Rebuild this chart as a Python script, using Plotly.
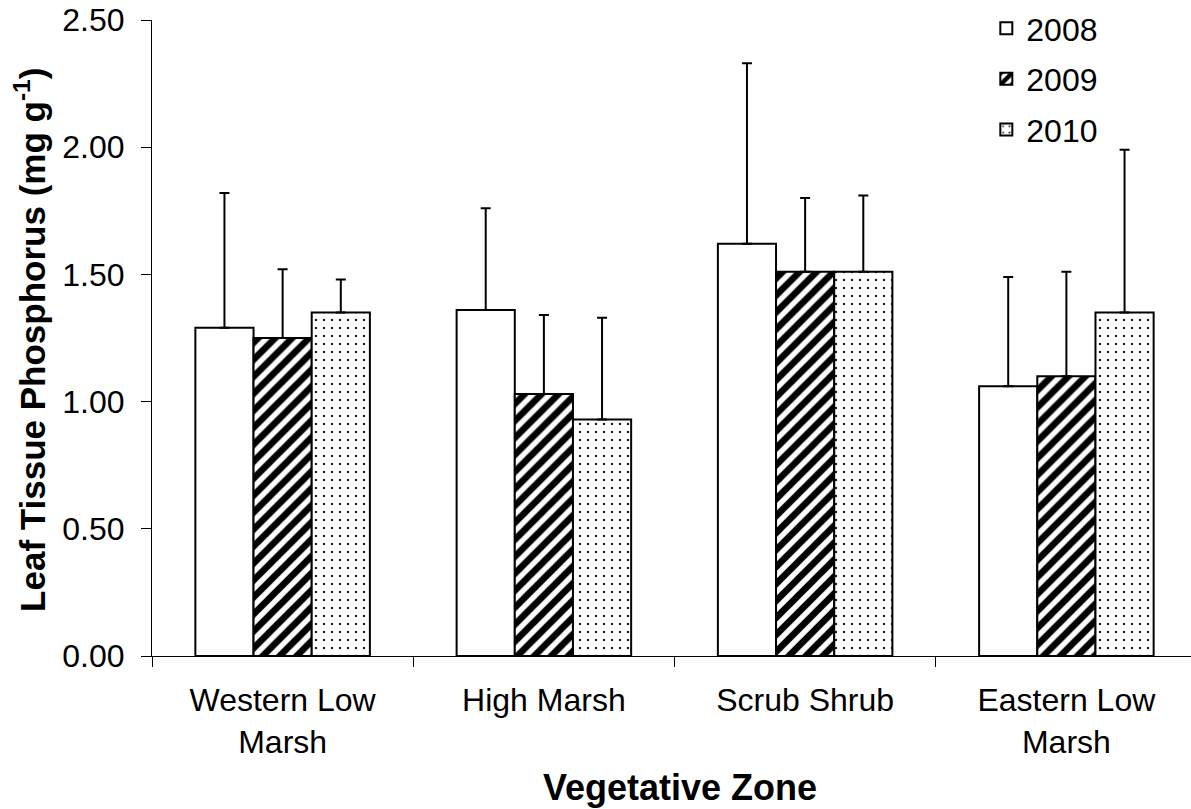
import plotly.graph_objects as go

# Vegetative zones (x categories) and their two-line tick labels
zones = ["Western Low Marsh", "High Marsh", "Scrub Shrub", "Eastern Low Marsh"]
zone_labels = ["Western Low<br>Marsh", "High Marsh", "Scrub Shrub", "Eastern Low<br>Marsh"]

# Mean leaf tissue phosphorus (mg g-1) per year
p_2008 = [1.29, 1.36, 1.62, 1.06]
p_2009 = [1.25, 1.03, 1.51, 1.10]
p_2010 = [1.35, 0.93, 1.51, 1.35]

# Upper error (standard deviation) per year
sd_2008 = [0.53, 0.40, 0.71, 0.43]
sd_2009 = [0.27, 0.31, 0.29, 0.41]
sd_2010 = [0.13, 0.40, 0.30, 0.64]

y_ticks = [0.0, 0.5, 1.0, 1.5, 2.0, 2.5]

FONT = "Liberation Sans, Arial, Helvetica, sans-serif"

series = [
    ("2008", p_2008, sd_2008, dict(shape="", bgcolor="white")),
    ("2009", p_2009, sd_2009, dict(shape="/", fgcolor="black", bgcolor="white",
                                   fgopacity=1, size=12, solidity=0.55)),
    ("2010", p_2010, sd_2010, dict(shape=".", fgcolor="#222222", bgcolor="white",
                                   fgopacity=1, size=8, solidity=0.08)),
]

fig = go.Figure()
for name, vals, sd, pattern in series:
    fig.add_trace(go.Bar(
        name=name,
        legendgroup=name,
        x=zones,
        y=vals,
        marker=dict(color="white", line=dict(color="black", width=2), pattern=pattern),
        error_y=dict(type="data", symmetric=False, array=sd, arrayminus=[0] * len(sd),
                     color="black", thickness=2, width=5),
    ))

fig.update_layout(
    width=1191,
    height=809,
    margin=dict(l=152, r=0, t=20, b=153),
    paper_bgcolor="white",
    plot_bgcolor="white",
    font=dict(family=FONT, size=32, color="black"),
    barmode="group",
    bargap=0.332,
    bargroupgap=0,
    showlegend=True,
    legend=dict(
        x=0.803, y=1.03, xanchor="left", yanchor="top",
        font=dict(size=32, family=FONT),
        bgcolor="rgba(0,0,0,0)",
        tracegroupgap=6,
        itemwidth=30,
    ),
    xaxis=dict(
        type="category",
        range=[-0.5, 3.477],
        tickmode="array",
        tickvals=zones,
        ticktext=zone_labels,
        tickson="boundaries",
        ticks="outside",
        ticklen=10,
        tickwidth=1,
        tickcolor="black",
        showline=True,
        linecolor="black",
        linewidth=1,
        showgrid=False,
        zeroline=False,
        tickfont=dict(size=32),
        ticklabelstandoff=16,
    ),
    yaxis=dict(
        range=[0, 2.5],
        tickmode="array",
        tickvals=y_ticks,
        ticktext=[f"{v:.2f}" for v in y_ticks],
        ticks="outside",
        ticklen=10,
        tickwidth=1,
        tickcolor="black",
        showline=True,
        linecolor="black",
        linewidth=1,
        showgrid=False,
        zeroline=False,
        tickfont=dict(size=32),
        ticklabelstandoff=10,
    ),
    annotations=[
        dict(
            text="<b>Leaf Tissue Phosphorus (mg g<sup>-1</sup>)</b>",
            xref="paper", yref="paper",
            x=-0.1174, y=0.497,
            xanchor="center", yanchor="middle",
            textangle=-90, showarrow=False,
            font=dict(size=35, family=FONT),
        ),
        dict(
            text="<b>Vegetative Zone</b>",
            xref="paper", yref="paper",
            x=0.508, y=-0.206,
            xanchor="center", yanchor="middle",
            showarrow=False,
            font=dict(size=36, family=FONT),
        ),
    ],
)

fig.write_html("out.html")
